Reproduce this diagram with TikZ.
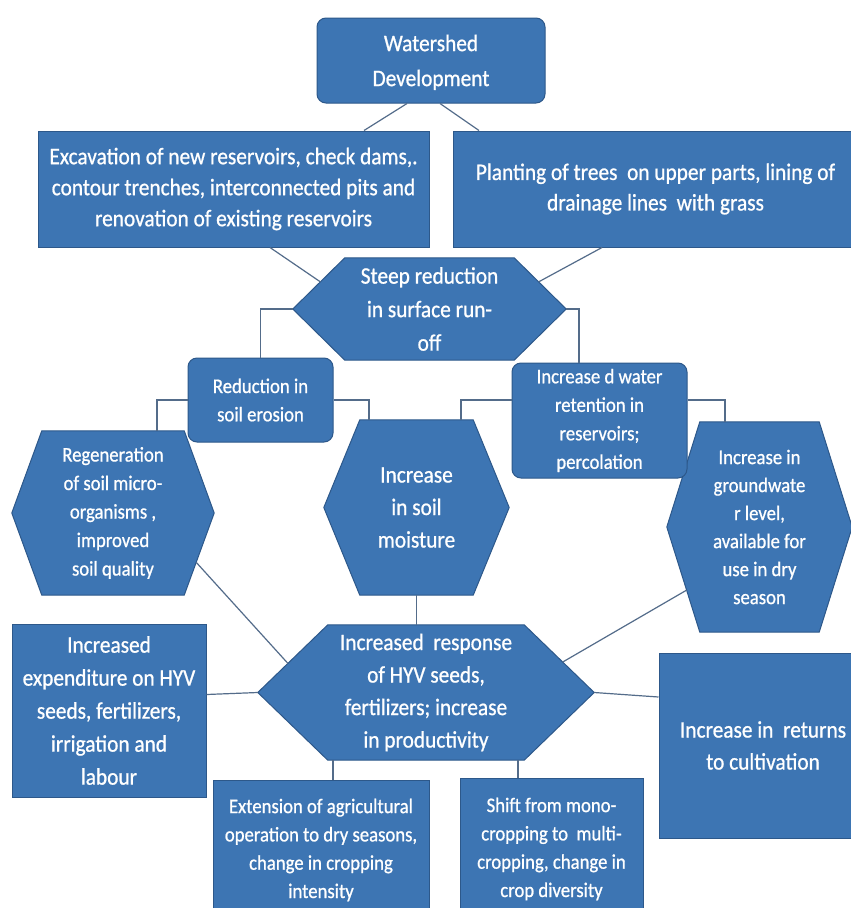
\documentclass[tikz,border=0pt]{standalone}
\usepackage{fontspec}
\setmainfont[FakeStretch=0.9, FakeBold=0.8]{Carlito}
\usetikzlibrary{calc,backgrounds}

\definecolor{fillc}{RGB}{61,117,179}
\definecolor{bordc}{RGB}{45,88,138}
\definecolor{connc}{RGB}{84,108,138}

% font size and line spacing in one go
\newcommand\txt[2]{\fontsize{#1}{#2}\selectfont}

% corner points and filled outline of a hexagon lying in the box of node #1,
% with its left and right tips pushed in by #2
\newcommand\hexbody[2]{%
  \coordinate (#1-nw) at ([xshift=#2]#1.north west);
  \coordinate (#1-ne) at ([xshift=-#2]#1.north east);
  \coordinate (#1-sw) at ([xshift=#2]#1.south west);
  \coordinate (#1-se) at ([xshift=-#2]#1.south east);
  \begin{scope}[on background layer]
    \path[hexfill] (#1.west) -- (#1-nw) -- (#1-ne) -- (#1.east) -- (#1-se) -- (#1-sw) -- cycle;
  \end{scope}}

\tikzset{
  box/.style={rectangle, draw=bordc, fill=fillc, line width=1pt, text=white,
              inner sep=0pt, align=center},
  rbox/.style={box, rounded corners=9pt},
  hexnode/.style={rectangle, inner sep=0pt, text=white, align=center},
  hexfill/.style={fill=fillc, draw=bordc, line width=1pt, line join=miter},
  bigtxt/.style={font=\txt{23.7}{32.5}},
  smalltxt/.style={font=\txt{20.8}{28.3}},
  conn/.style={draw=connc, line width=1.2pt},
}

\begin{document}
\begin{tikzpicture}[x=1pt, y=-1pt]
\useasboundingbox (0,0) rectangle (851,908);
\begin{scope}[on background layer]
  \fill[white] (0,0) rectangle (851,908);
\end{scope}

% ---- top level ----
\node[rbox, font=\txt{23.7}{35}, minimum width=228pt, minimum height=85pt]
  (wd) at (431,60.5) {\rule{0pt}{20pt}Watershed\\Development};

\node[box, font=\txt{23.7}{31}, minimum width=391pt, minimum height=116pt]
  (exc) at (233.5,189) {Excavation of new reservoirs, check dams,.\\contour trenches, interconnected pits and\\renovation of existing reservoirs};

\node[box, font=\txt{23.7}{30.5}, minimum width=405pt, minimum height=116pt]
  (pl) at (655.5,189) {Planting of trees\ \ on upper parts, lining of\\drainage lines\ \ with grass};

% ---- run-off ----
\node[hexnode, font=\txt{23.7}{33.5}, minimum width=273pt, minimum height=102pt]
  (st) at (429.5,309) {Steep reduction\\in surface run-\\off};
\hexbody{st}{52pt}

\node[rbox, smalltxt, minimum width=145pt, minimum height=84pt]
  (red) at (260.5,400) {Reduction in\\soil erosion};

\node[rbox, font=\txt{20.8}{28.5}, minimum width=175pt, minimum height=115pt]
  (wat) at (599.5,420.5) {Increase d water\\retention in\\reservoirs;\\percolation};

% ---- third level ----
\node[hexnode, font=\txt{20.8}{28.5}, minimum width=202pt, minimum height=164pt]
  (reg) at (113,513) {Regeneration\\of soil micro-\\organisms ,\\improved\\soil quality};
\hexbody{reg}{30pt}

\node[hexnode, bigtxt, minimum width=185pt, minimum height=175pt]
  (soil) at (416.5,507.5) {Increase\\in soil\\moisture};
\hexbody{soil}{36pt}

\node[hexnode, font=\txt{20.8}{28}, minimum width=185pt, minimum height=210pt]
  (gw) at (759.5,527) {Increase in\\groundwate\\r level,\\available for\\use in dry\\season};
\hexbody{gw}{33pt}

% ---- productivity ----
\node[hexnode, bigtxt, minimum width=336pt, minimum height=135pt]
  (resp) at (426,692.5) {Increased\ \ response\\of HYV seeds,\\fertilizers; increase\\in productivity};
\hexbody{resp}{70pt}

\node[box, font=\txt{23.7}{33}, minimum width=194pt, minimum height=173pt]
  (exp) at (109,710.5) {Increased\\expenditure on HYV\\seeds, fertilizers,\\irrigation and\\labour};

\node[box, font=\txt{23.7}{32}, minimum width=208pt, minimum height=185pt]
  (ret) at (763,745.5) {Increase in\ \ returns\\to cultivation};

\node[box, smalltxt, minimum width=216pt, minimum height=140pt]
  (ext) at (321,850) {Extension of agricultural\\operation to dry seasons,\\change in cropping\\intensity};

\node[box, smalltxt, minimum width=183pt, minimum height=142pt]
  (sh) at (551.5,849) {Shift from mono-\\cropping to\ \ multi-\\cropping, change in\\crop diversity};

% ---- connectors ----
\draw[conn] ([xshift=-24pt]wd.south) -- ([xshift=130.5pt]exc.north);
\draw[conn] ([xshift=9pt]wd.south) -- ([xshift=-176.5pt]pl.north);
\draw[conn] ([xshift=36.5pt]exc.south) -- ($(st.west)!0.53!(st-nw)$);
\draw[conn] ([xshift=-53.5pt]pl.south) -- ($(st.east)!0.53!(st-ne)$);

\draw[conn] (st.west) -| (red.north);
\draw[conn] (st.east) -| ([xshift=-20.5pt]wat.north);

\draw[conn] (red.west) -| ([xshift=44pt]reg.north);
\draw[conn] (red.east) -| ([xshift=-47.5pt]soil.north);
\draw[conn] ([yshift=20.5pt]wat.west) -| ([xshift=44.5pt]soil.north);
\draw[conn] ([yshift=20.5pt]wat.east) -| ([xshift=-34.5pt]gw.north);

\draw[conn] (soil.south) -- (soil.south |- resp.north);
\draw[conn] ($(reg.east)!0.6!(reg-se)$) -- ($(resp.west)!0.43!(resp-nw)$);
\draw[conn] ($(gw.west)!0.6!(gw-sw)$) -- ($(resp.east)!0.45!(resp-ne)$);

\draw[conn] (resp.west) -- ([yshift=16pt]exp.east);
\draw[conn] (resp.east) -- ([yshift=48.5pt]ret.west);
\draw[conn] ([xshift=12pt]ext.north) -- ([xshift=12pt]ext.north |- resp.south);
\draw[conn] ([xshift=-33.5pt]sh.north) -- ([xshift=-33.5pt]sh.north |- resp.south);
\end{tikzpicture}
\end{document}
